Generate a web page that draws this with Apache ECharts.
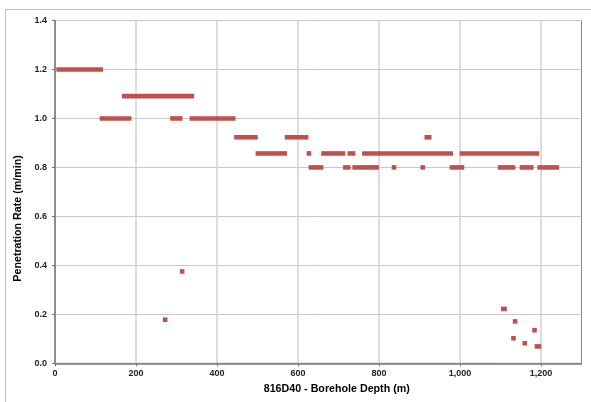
<!DOCTYPE html>
<html>
<head>
<meta charset="utf-8">
<script src="https://cdn.jsdelivr.net/npm/echarts@6/dist/echarts.min.js"></script>
<style>
  html, body { margin: 0; padding: 0; background: #fff; }
  #chart { width: 591px; height: 402px; }
</style>
</head>
<body>
<div id="chart"></div>
<script>
// Depth intervals (m) at a constant penetration rate (m/min)
const depthFrom = [9, 116, 171, 290, 338, 448, 501, 573, 627, 632, 663, 717, 728, 740, 764, 837, 908, 918, 980, 1005, 1099, 1153, 1197,
                   272, 314, 1107, 1136, 1132, 1160, 1184, 1190];
const depthTo   = [113, 183, 338, 309, 440, 495, 567, 620, 627, 657, 711, 724, 736, 794, 977, 837, 908, 924, 1005, 1190, 1131, 1176, 1239,
                   272, 314, 1110, 1136, 1132, 1160, 1184, 1195];
const rate      = [1.2, 1.0, 1.091, 1.0, 1.0, 0.923, 0.857, 0.923, 0.857, 0.8, 0.857, 0.8, 0.857, 0.8, 0.857, 0.8, 0.8, 0.923, 0.8, 0.857, 0.8, 0.8, 0.8,
                   0.178, 0.375, 0.222, 0.171, 0.102, 0.082, 0.135, 0.069];
const xTicks = [0, 200, 400, 600, 800, 1000, 1200];
const yTicks = [0, 0.2, 0.4, 0.6, 0.8, 1.0, 1.2, 1.4];

const data = depthFrom.map((d, i) => [d, depthTo[i], rate[i]]);
const MARK = 4.6;
const RED = '#C0504D';
const FONT = '"Liberation Sans", Arial, sans-serif';

const chart = echarts.init(document.getElementById('chart'));
chart.setOption({
  animation: false,
  backgroundColor: '#fff',
  graphic: [{
    type: 'rect', silent: true, z: -10,
    shape: { x: 5.5, y: 9.5, width: 700, height: 500 },
    style: { fill: 'none', stroke: '#bdbdbd', lineWidth: 1 }
  }],
  grid: { left: 55, top: 20.5, right: 9.5, bottom: 38.7, show: true, borderColor: '#888', borderWidth: 1, backgroundColor: 'transparent' },
  xAxis: {
    type: 'value', min: 0, max: 1300, interval: 200,
    name: '816D40 - Borehole Depth (m)', nameLocation: 'middle', nameGap: 19,
    nameTextStyle: { fontFamily: FONT, fontWeight: 'bold', fontSize: 10.7, color: '#000', padding: [0, 0, 0, 37] },
    axisLine: { show: true, lineStyle: { color: '#777', width: 1.5 } },
    axisTick: { show: true, length: 3, lineStyle: { color: '#777' }, customValues: xTicks },
    axisLabel: {
      customValues: xTicks,
      fontFamily: FONT, fontWeight: 'bold', fontSize: 9, color: '#222', margin: 6,
      formatter: v => v.toLocaleString('en-US')
    },
    splitLine: { show: true, lineStyle: { color: '#d0d0d0', width: 1.5 } }
  },
  yAxis: {
    type: 'value', min: 0, max: 1.4, interval: 0.2,
    name: 'Penetration Rate (m/min)', nameLocation: 'middle', nameGap: 25, nameRotate: 90,
    nameTextStyle: { fontFamily: FONT, fontWeight: 'bold', fontSize: 10.7, color: '#000', padding: [0, 53, 0, 0] },
    axisLine: { show: true, lineStyle: { color: '#777', width: 1.5 } },
    axisTick: { show: true, length: 3, lineStyle: { color: '#777' } },
    axisLabel: {
      fontFamily: FONT, fontWeight: 'bold', fontSize: 9, color: '#222', margin: 8,
      formatter: v => v.toFixed(1)
    },
    splitLine: { show: true, lineStyle: { color: '#c8c8c8', width: 1 } }
  },
  series: [{
    type: 'custom',
    data: data,
    encode: { x: [0, 1], y: 2 },
    renderItem: function (params, api) {
      const p0 = api.coord([api.value(0), api.value(2)]);
      const p1 = api.coord([api.value(1), api.value(2)]);
      return {
        type: 'rect',
        shape: { x: p0[0] - MARK / 2, y: p0[1] - MARK / 2, width: p1[0] - p0[0] + MARK, height: MARK },
        style: { fill: RED }
      };
    }
  }]
});
</script>
</body>
</html>
